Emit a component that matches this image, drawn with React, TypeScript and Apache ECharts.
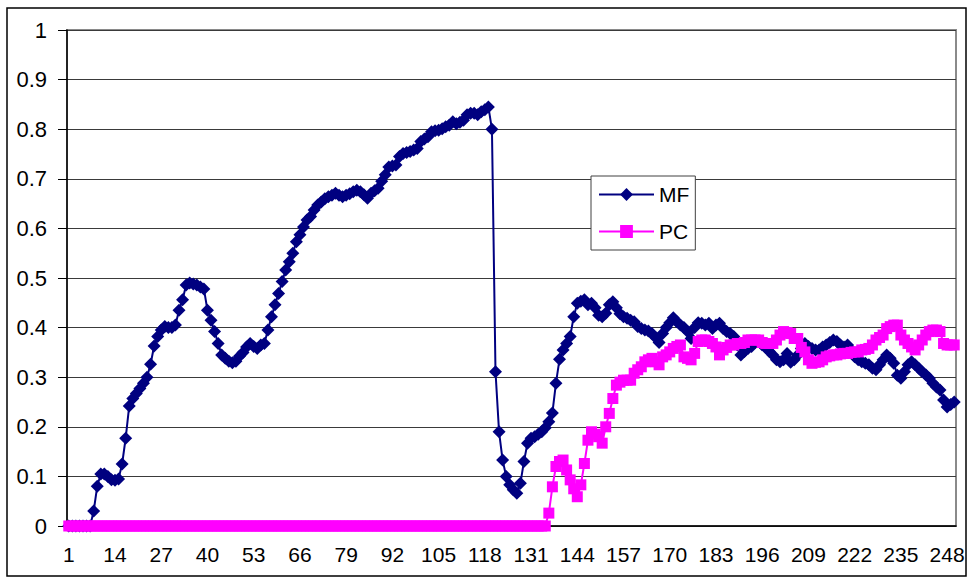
import React, { useEffect, useRef } from "react";
import * as echarts from "echarts";

const categories: string[] = Array.from({ length: 250 }, (_, i) => String(i + 1));

const mfValues: number[] = [
  0, 0, 0, 0, 0, 0, 0, 0.03, 0.08, 0.105,
  0.105, 0.1, 0.093, 0.092, 0.095, 0.125, 0.177, 0.242, 0.257, 0.267,
  0.277, 0.288, 0.3, 0.326, 0.363, 0.382, 0.395, 0.402, 0.4, 0.4,
  0.405, 0.435, 0.456, 0.486, 0.49, 0.488, 0.486, 0.482, 0.478, 0.435,
  0.415, 0.392, 0.368, 0.345, 0.338, 0.332, 0.329, 0.332, 0.342, 0.35,
  0.361, 0.368, 0.362, 0.358, 0.365, 0.368, 0.395, 0.422, 0.446, 0.469,
  0.493, 0.516, 0.533, 0.55, 0.573, 0.587, 0.603, 0.617, 0.624, 0.637,
  0.647, 0.653, 0.66, 0.664, 0.667, 0.671, 0.667, 0.664, 0.667, 0.67,
  0.674, 0.677, 0.674, 0.668, 0.661, 0.671, 0.676, 0.681, 0.695, 0.708,
  0.724, 0.726, 0.728, 0.745, 0.751, 0.753, 0.755, 0.758, 0.761, 0.775,
  0.78, 0.785, 0.795, 0.797, 0.798, 0.801, 0.805, 0.808, 0.815, 0.811,
  0.814, 0.818, 0.829, 0.832, 0.832, 0.829, 0.835, 0.839, 0.845, 0.8,
  0.311, 0.19, 0.133, 0.1, 0.083, 0.073, 0.066, 0.086, 0.13, 0.167,
  0.177, 0.18, 0.185, 0.19, 0.198, 0.21, 0.228, 0.288, 0.336, 0.355,
  0.368, 0.382, 0.422, 0.449, 0.453, 0.456, 0.446, 0.449, 0.44, 0.425,
  0.422, 0.429, 0.446, 0.452, 0.44, 0.428, 0.422, 0.419, 0.415, 0.412,
  0.402, 0.398, 0.395, 0.393, 0.388, 0.38, 0.37, 0.388, 0.4, 0.41,
  0.42, 0.412, 0.405, 0.4, 0.392, 0.378, 0.4, 0.41, 0.409, 0.405,
  0.409, 0.398, 0.405, 0.409, 0.398, 0.392, 0.388, 0.382, 0.365, 0.345,
  0.352, 0.358, 0.362, 0.37, 0.372, 0.365, 0.36, 0.352, 0.345, 0.335,
  0.331, 0.335, 0.348, 0.33, 0.335, 0.345, 0.358, 0.368, 0.362, 0.358,
  0.355, 0.355, 0.361, 0.365, 0.37, 0.375, 0.372, 0.365, 0.361, 0.365,
  0.355, 0.341, 0.335, 0.331, 0.328, 0.325, 0.318, 0.315, 0.325, 0.335,
  0.345, 0.338, 0.328, 0.304, 0.298, 0.311, 0.325, 0.331, 0.325, 0.318,
  0.311, 0.305, 0.298, 0.288, 0.28, 0.274, 0.254, 0.24, 0.245, 0.25,
];

const pcValues: number[] = [
  0, 0, 0, 0, 0, 0, 0, 0, 0, 0,
  0, 0, 0, 0, 0, 0, 0, 0, 0, 0,
  0, 0, 0, 0, 0, 0, 0, 0, 0, 0,
  0, 0, 0, 0, 0, 0, 0, 0, 0, 0,
  0, 0, 0, 0, 0, 0, 0, 0, 0, 0,
  0, 0, 0, 0, 0, 0, 0, 0, 0, 0,
  0, 0, 0, 0, 0, 0, 0, 0, 0, 0,
  0, 0, 0, 0, 0, 0, 0, 0, 0, 0,
  0, 0, 0, 0, 0, 0, 0, 0, 0, 0,
  0, 0, 0, 0, 0, 0, 0, 0, 0, 0,
  0, 0, 0, 0, 0, 0, 0, 0, 0, 0,
  0, 0, 0, 0, 0, 0, 0, 0, 0, 0,
  0, 0, 0, 0, 0, 0, 0, 0, 0, 0,
  0, 0, 0, 0, 0, 0.026, 0.079, 0.12, 0.13, 0.133,
  0.113, 0.093, 0.075, 0.059, 0.083, 0.126, 0.173, 0.19, 0.185, 0.18,
  0.167, 0.2, 0.227, 0.257, 0.284, 0.29, 0.294, 0.294, 0.294, 0.308,
  0.315, 0.321, 0.331, 0.335, 0.338, 0.331, 0.325, 0.341, 0.345, 0.351,
  0.358, 0.362, 0.365, 0.341, 0.338, 0.335, 0.348, 0.372, 0.375, 0.375,
  0.372, 0.368, 0.361, 0.345, 0.355, 0.36, 0.365, 0.365, 0.368, 0.368,
  0.37, 0.375, 0.375, 0.375, 0.375, 0.37, 0.368, 0.368, 0.368, 0.375,
  0.385, 0.392, 0.39, 0.388, 0.378, 0.378, 0.36, 0.351, 0.335, 0.328,
  0.33, 0.331, 0.335, 0.341, 0.343, 0.345, 0.345, 0.347, 0.348, 0.348,
  0.35, 0.351, 0.351, 0.355, 0.356, 0.358, 0.365, 0.375, 0.38, 0.385,
  0.398, 0.402, 0.405, 0.405, 0.385, 0.375, 0.368, 0.361, 0.355, 0.365,
  0.375, 0.385, 0.392, 0.395, 0.395, 0.392, 0.368, 0.365, 0.365, 0.365,
];

const FONT = "'Liberation Sans', Arial, sans-serif";

export default function App() {
  const ref = useRef<HTMLDivElement>(null);
  useEffect(() => {
    if (!ref.current) return;
    const chart = echarts.init(ref.current, undefined, { renderer: "svg" });
    chart.setOption({
      animation: false,
      backgroundColor: "#ffffff",
      textStyle: { fontFamily: FONT },
      grid: {
        left: 67,
        top: 30,
        right: 14,
        bottom: 52,
        show: true,
        borderColor: "#8a8a8a",
        borderWidth: 2,
        backgroundColor: "transparent",
      },
      graphic: [
        {
          type: "rect",
          shape: { x: 7, y: 8, width: 959, height: 568 },
          style: { fill: "none", stroke: "#000", lineWidth: 1.5 },
          silent: true,
          z: 100,
        },
      ],
      legend: {
        orient: "vertical",
        left: 591,
        top: 176,
        padding: [8, 6, 8, 7],
        itemGap: 16,
        itemWidth: 55,
        itemHeight: 16,
        backgroundColor: "#ffffff",
        borderColor: "#404040",
        borderWidth: 1,
        borderRadius: 0,
        textStyle: { fontSize: 21, color: "#000", fontFamily: FONT, padding: [0, 0, 0, 0] },
        data: ["MF", "PC"],
      },
      xAxis: {
        type: "category",
        data: categories,
        boundaryGap: true,
        axisLine: { lineStyle: { color: "#000", width: 1.5 } },
        axisTick: { interval: 0, length: 4, lineStyle: { color: "#000", width: 1 } },
        axisLabel: { interval: 12, fontSize: 21, color: "#000", margin: 18, fontFamily: FONT },
        splitLine: { show: false },
      },
      yAxis: {
        type: "value",
        min: 0,
        max: 1,
        interval: 0.1,
        axisLine: { show: true, lineStyle: { color: "#000", width: 1.5 } },
        axisTick: { show: true, length: 9, lineStyle: { color: "#000", width: 1 } },
        axisLabel: {
          fontSize: 22,
          color: "#000",
          margin: 20,
          fontFamily: FONT,
          formatter: (v: number) => String(Math.round(v * 10) / 10),
        },
        splitLine: { show: true, lineStyle: { color: "#3a3a3a", width: 1 } },
      },
      series: [
        {
          name: "MF",
          type: "line",
          data: mfValues,
          symbol: "diamond",
          symbolSize: 13,
          showAllSymbol: true,
          lineStyle: { color: "#000080", width: 2 },
          itemStyle: { color: "#000080", borderWidth: 0 },
          z: 3,
        },
        {
          name: "PC",
          type: "line",
          data: pcValues,
          symbol: "rect",
          symbolSize: 11,
          showAllSymbol: true,
          lineStyle: { color: "#ff00ff", width: 2 },
          itemStyle: { color: "#ff00ff", borderWidth: 0 },
          z: 4,
        },
      ],
    });
    return () => chart.dispose();
  }, []);
  return (
    <div
      ref={ref}
      style={{ position: "fixed", left: 0, top: 0, width: 970, height: 578 }}
    />
  );
}
